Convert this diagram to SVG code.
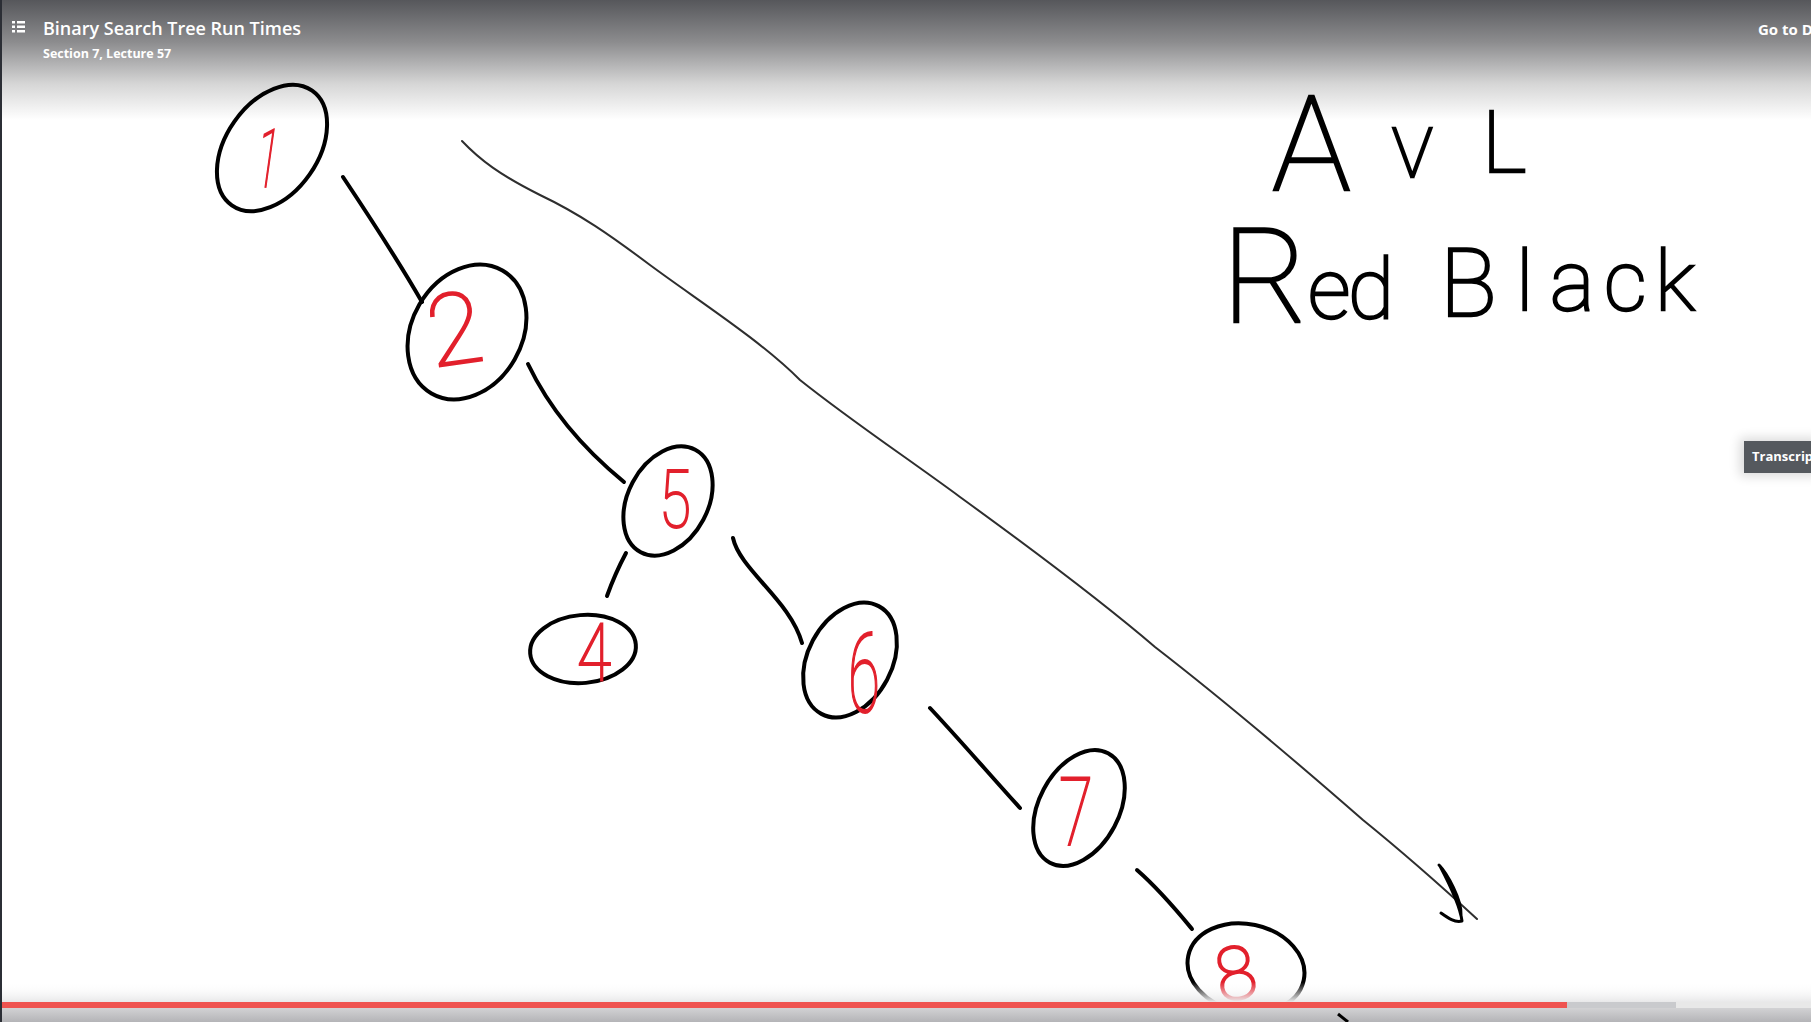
<svg xmlns="http://www.w3.org/2000/svg" width="1811" height="1022" viewBox="0 0 1811 1022">
<defs>
<linearGradient id="hdr" x1="0" y1="0" x2="0" y2="1">
<stop offset="0" stop-color="#56575b"/>
<stop offset="0.35" stop-color="#8c8c8e"/>
<stop offset="0.7" stop-color="#d6d6d6"/>
<stop offset="1" stop-color="#ffffff"/>
</linearGradient>
<linearGradient id="ftrTop" x1="0" y1="0" x2="0" y2="1">
<stop offset="0" stop-color="#ffffff" stop-opacity="0"/>
<stop offset="1" stop-color="#e8e8e9"/>
</linearGradient>
<linearGradient id="ftrBot" x1="0" y1="0" x2="0" y2="1">
<stop offset="0" stop-color="#d2d2d4"/>
<stop offset="1" stop-color="#b4b4b7"/>
</linearGradient>
<filter id="sh" x="-30%" y="-50%" width="160%" height="200%">
<feGaussianBlur stdDeviation="6"/>
</filter>
</defs>
<style>
.ink{fill:none;stroke:#000;stroke-width:4;stroke-linecap:round;stroke-linejoin:round}
.pen{fill:none;stroke:#2e2e2e;stroke-width:2;stroke-linecap:round;stroke-linejoin:round}
.dig{font-family:Roboto,"DejaVu Sans",sans-serif;font-weight:100;fill:#e2202c;stroke:#e2202c;stroke-width:2;text-anchor:middle}
.hand{font-family:Roboto,"DejaVu Sans",sans-serif;font-weight:100;fill:#000;stroke:#000;stroke-width:2.5}
.ui{font-family:"Open Sans","Noto Sans",sans-serif;fill:#fff}
</style>
<rect width="1811" height="1022" fill="#ffffff"/>
<rect width="1811" height="120" fill="url(#hdr)"/>

<g id="connectors">
<path class="ink" d="M343,177 C365,210 395,255 422,302"/>
<path class="ink" d="M528,364 C550,410 585,450 624,482"/>
<path class="ink" d="M626,553 C618,568 612,582 607,596"/>
<path class="ink" d="M733,538 C740,570 790,600 802,643"/>
<path class="ink" d="M930,708 C960,740 990,775 1020,808"/>
<path class="ink" d="M1137,870 C1160,890 1178,912 1192,929"/>
</g>

<g id="node-1">
<ellipse class="ink" cx="272" cy="148" rx="70" ry="46" transform="rotate(-55 272 148)"/>
<text class="dig" x="268" y="187" font-size="82" textLength="22" lengthAdjust="spacingAndGlyphs" transform="rotate(8 268 160)">1</text>
</g>
<g id="node-2">
<ellipse class="ink" cx="467" cy="332" rx="71" ry="55" transform="rotate(-60 467 332)"/>
<text class="dig" x="455" y="364" font-size="100" transform="rotate(-8 455 330)">2</text>
</g>
<g id="node-5">
<ellipse class="ink" cx="668" cy="501" rx="58" ry="40" transform="rotate(-62 668 501)"/>
<text class="dig" x="675" y="527" font-size="80" textLength="32" lengthAdjust="spacingAndGlyphs">5</text>
</g>
<g id="node-4">
<ellipse class="ink" cx="583" cy="649" rx="53" ry="34" transform="rotate(-5 583 649)"/>
<text class="dig" x="594" y="680" font-size="80" textLength="34" lengthAdjust="spacingAndGlyphs">4</text>
</g>
<g id="node-6">
<ellipse class="ink" cx="850" cy="660" rx="61" ry="42" transform="rotate(-62 850 660)"/>
<text class="dig" x="864" y="712" font-size="112" textLength="32" lengthAdjust="spacingAndGlyphs">6</text>
</g>
<g id="node-7">
<ellipse class="ink" cx="1079" cy="808" rx="62" ry="40" transform="rotate(-62 1079 808)"/>
<text class="dig" x="1076" y="845" font-size="94" textLength="34" lengthAdjust="spacingAndGlyphs">7</text>
</g>
<g id="node-8">
<ellipse class="ink" cx="1246" cy="968" rx="59" ry="44" transform="rotate(12 1246 968)"/>
<text class="dig" x="1236" y="999" font-size="74" transform="rotate(-10 1236 975)">8</text>
</g>

<g id="annotations">
<path class="pen" d="M462,141 C480,160 500,175 540,195 C580,214 610,235 650,265 C700,302 760,340 800,380 C850,420 910,460 960,497 C1040,555 1100,600 1155,647 C1230,705 1300,765 1363,820 C1400,850 1440,885 1477,919"/>
<path class="ink" style="stroke-width:3" d="M1439,865 C1447,873 1462,900 1461,915 M1441,913 C1448,918 1455,923 1462,921 C1460,905 1450,885 1440,866"/>
<text class="hand" y="190"><tspan x="1272" font-size="132">A</tspan><tspan x="1392" y="177" font-size="68">V</tspan><tspan x="1482" y="172" font-size="86">L</tspan></text>
<text class="hand"><tspan x="1222" y="322" font-size="132">R</tspan><tspan x="1308 1348" y="318" font-size="84">ed</tspan><tspan x="1440" y="316" font-size="94">B</tspan><tspan x="1516 1550 1604 1655" y="310" font-size="84">lack</tspan></text>
</g>

<rect x="0" y="982" width="1811" height="20" fill="url(#ftrTop)"/>
<rect x="0" y="1008" width="1811" height="14" fill="url(#ftrBot)"/>
<rect x="0" y="1002" width="1811" height="6" fill="#e8e8e8"/>
<rect x="0" y="1002" width="1676" height="6" fill="#c9cacd"/>
<rect x="0" y="1002" width="1567" height="6" fill="#ef5350"/>
<path d="M1338,1014 L1348,1022" stroke="#000" stroke-width="3"/>

<rect x="0" y="0" width="2" height="1022" fill="#2b2e35"/>

<g id="header">
<g fill="#fff">
<rect x="12" y="21" width="3" height="2.5"/><rect x="17" y="21" width="8" height="2.5"/>
<rect x="12" y="25.5" width="3" height="2.5"/><rect x="17" y="25.5" width="8" height="2.5"/>
<rect x="12" y="30" width="3" height="2.5"/><rect x="17" y="30" width="8" height="2.5"/>
</g>
<text class="ui" x="43" y="35" font-size="18" font-weight="600" textLength="258">Binary Search Tree Run Times</text>
<text class="ui" x="43" y="58" font-size="12.5" font-weight="700">Section 7, Lecture 57</text>
<text class="ui" x="1758" y="35" font-size="15" font-weight="700">Go to D</text>
</g>

<g id="transcript-tab">
<rect x="1740" y="438" width="80" height="38" fill="#000" opacity="0.15" filter="url(#sh)"/>
<rect x="1744" y="441" width="67" height="32" fill="#55595e"/>
<text class="ui" x="1752" y="461" font-size="13" font-weight="700">Transcrip</text>
</g>
</svg>
